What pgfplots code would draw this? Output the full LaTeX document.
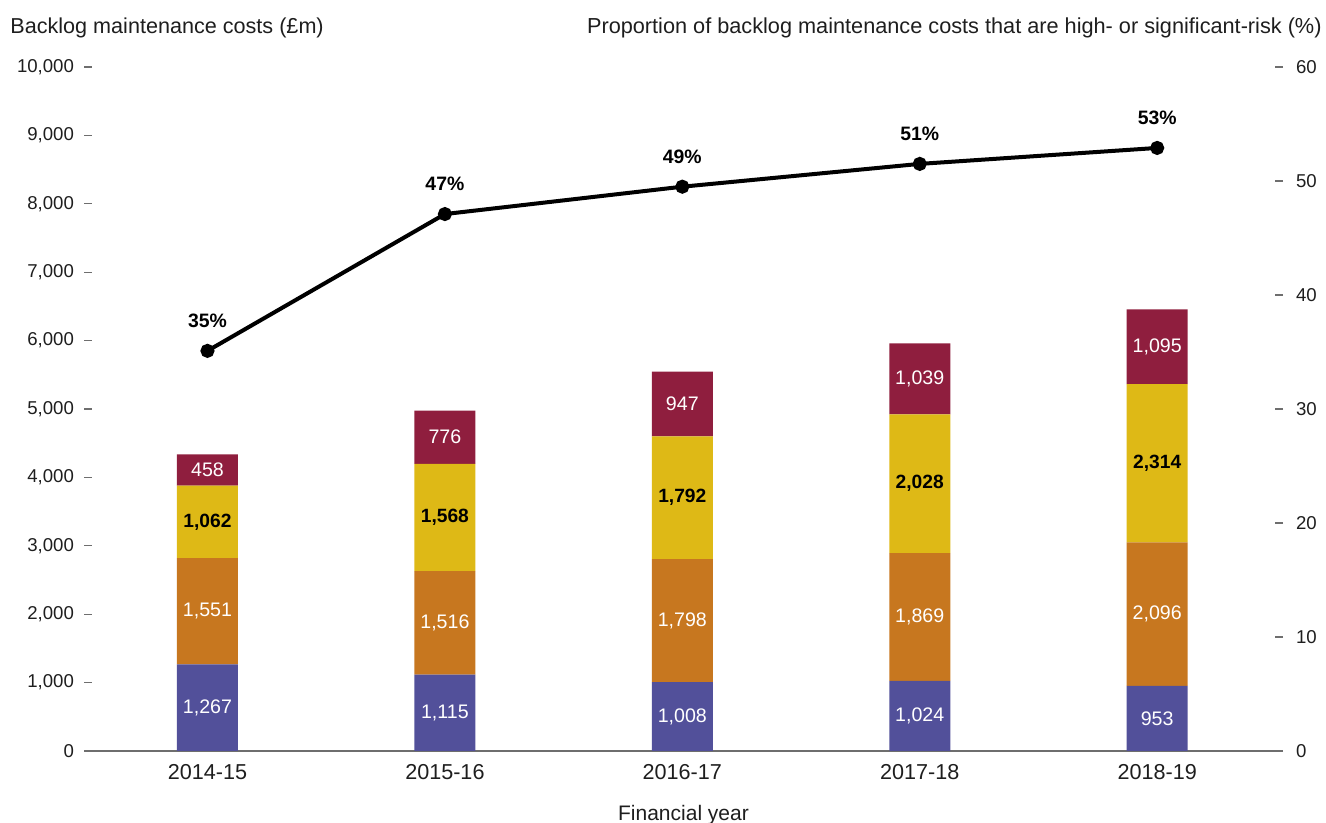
\documentclass[border=0pt]{standalone}
\usepackage{pgfplots}
\usepackage{pgfplotstable}
\pgfplotsset{compat=1.18}
\usepackage{fontspec}
\setmainfont{Liberation Sans}
\definecolor{cLow}{RGB}{82,80,154}
\definecolor{cMod}{RGB}{199,119,31}
\definecolor{cSig}{RGB}{222,185,22}
\definecolor{cHigh}{RGB}{143,30,62}
\definecolor{txt}{RGB}{30,30,30}
\definecolor{axgray}{RGB}{110,110,110}

\pgfplotstableread{
x low moderate significant high
0 1267 1551 1062 458
1 1115 1516 1568 776
2 1008 1798 1792 947
3 1024 1869 2028 1039
4 953 2096 2314 1095
}\costs

% label positions (centre of each segment) and texts
\pgfplotstableread{
x y lab
0 633.5 1,267
1 557.5 1,115
2 504 1,008
3 512 1,024
4 476.5 953
0 2042.5 1,551
1 1873 1,516
2 1907 1,798
3 1958.5 1,869
4 2001 2,096
0 4109 458
1 4587 776
2 5071.5 947
3 5440.5 1,039
4 5910.5 1,095
}\whitelabels
\pgfplotstableread{
x y lab
0 3349 1,062
1 3415 1,568
2 3702 1,792
3 3907 2,028
4 4206 2,314
}\blacklabels

\pgfplotstableread{
x pct lab
0 35.1 35
1 47.1 47
2 49.5 49
3 51.5 51
4 52.9 53
}\risk

\pgfplotsset{
  base/.style={
    scale only axis, width=599.5pt, height=342pt,
    at={(42pt,36pt)}, anchor=south west,
    xmin=-0.52, xmax=4.53,
    tick align=inside, major tick length=4pt,
    every tick/.style={axgray, line width=0.6pt},
    tick label style={font=\fontsize{9.3}{11}\selectfont, text=txt},
  },
}

\begin{document}
\begin{tikzpicture}
\useasboundingbox (0,0) rectangle (663pt,411.5pt);

% left axis with stacked bars
\begin{axis}[base,
  ymin=0, ymax=10000,
  ybar stacked, bar width=30.5pt,
  axis x line*=bottom, axis y line*=left,
  y axis line style={draw=none},
  x axis line style={axgray, line width=0.8pt},
  xtick=data, xticklabels={2014-15,2015-16,2016-17,2017-18,2018-19},
  xtick style={draw=none},
  xticklabel style={font=\fontsize{10.8}{12}\selectfont, yshift=-3pt},
  ytick={0,1000,...,10000},
  yticklabel style={xshift=-1.5pt},
  scaled y ticks=false,
  /pgf/number format/.cd, 1000 sep={,}, assume math mode=true, /pgfplots/.cd,
  xlabel={Financial year},
  xlabel style={font=\fontsize{10.5}{12}\selectfont, text=txt, yshift=-6pt},
  ylabel={Backlog maintenance costs (£m)},
  every axis y label/.style={at={(rel axis cs:0,1)}, anchor=base west, inner sep=0pt,
     xshift=-37pt, yshift=16.5pt, font=\fontsize{10.8}{12}\selectfont, text=txt},
]
\addplot[fill=cLow, draw=none] table[x=x, y=low] {\costs};
\addplot[fill=cMod, draw=none] table[x=x, y=moderate] {\costs};
\addplot[fill=cSig, draw=none] table[x=x, y=significant] {\costs};
\addplot[fill=cHigh, draw=none] table[x=x, y=high] {\costs};
\end{axis}

% hidden axis for bar segment labels
\begin{axis}[base, ymin=0, ymax=10000, hide axis]
\addplot[draw=none, mark=none, nodes near coords, point meta=explicit symbolic,
  every node near coord/.style={anchor=center, text=white, inner sep=0pt,
    font=\fontsize{9.8}{11}\selectfont}]
  table[x=x, y=y, meta=lab] {\whitelabels};
\addplot[draw=none, mark=none, nodes near coords, point meta=explicit symbolic,
  every node near coord/.style={anchor=center, text=black, inner sep=0pt,
    font=\fontsize{9.6}{11}\selectfont\bfseries}]
  table[x=x, y=y, meta=lab] {\blacklabels};
\end{axis}

% right axis with the line
\begin{axis}[base,
  ymin=0, ymax=60,
  axis x line=none, axis y line*=right,
  y axis line style={draw=none},
  ytick={0,10,...,60},
  yticklabel style={xshift=3pt},
  /pgf/number format/assume math mode=true,
  ylabel={Proportion of backlog maintenance costs that are high- or significant-risk (\%)},
  every axis y label/.style={at={(rel axis cs:1,1)}, anchor=base east, inner sep=0pt,
     xshift=19.5pt, yshift=16.5pt, rotate=0, font=\fontsize{10.85}{12}\selectfont, text=txt},
]
\addplot[black, line width=2pt, mark=*, mark size=2.5pt,
  nodes near coords={\pgfplotspointmeta\%}, point meta=explicit symbolic,
  every node near coord/.style={anchor=south, inner sep=0pt, yshift=10.5pt,
    font=\fontsize{9.7}{11}\selectfont\bfseries, text=black}]
  table[x=x, y=pct, meta=lab] {\risk};
\end{axis}
\end{tikzpicture}
\end{document}
